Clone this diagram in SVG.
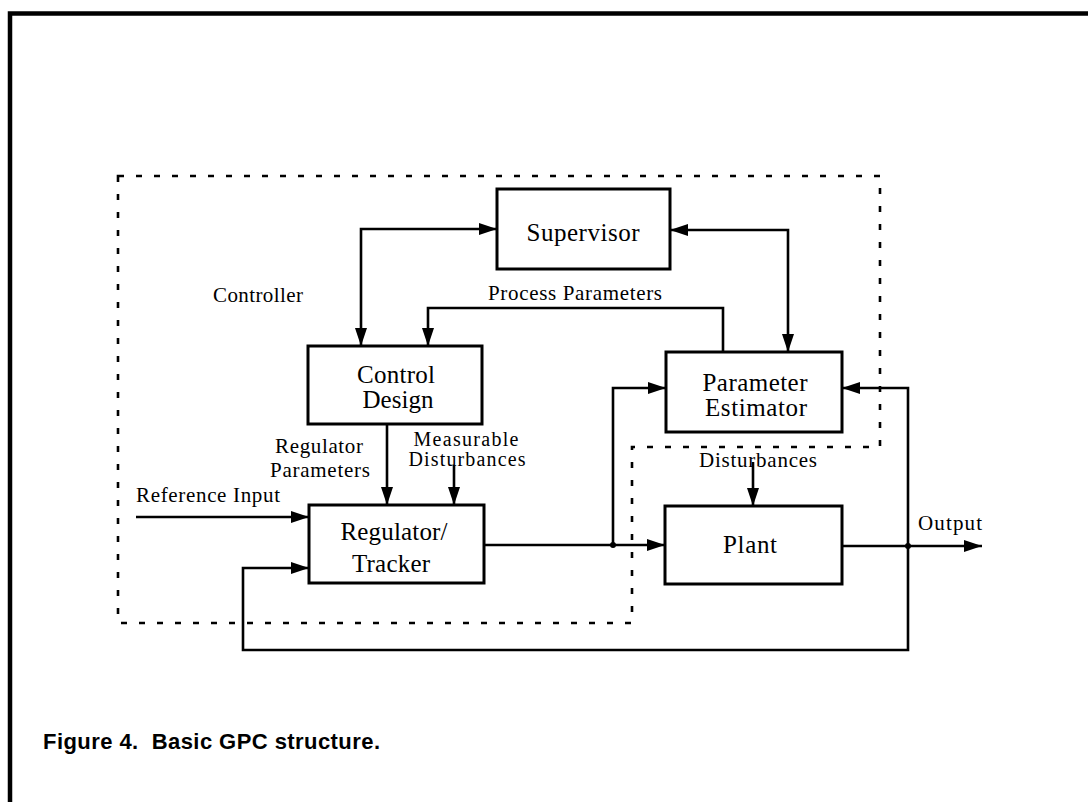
<svg xmlns="http://www.w3.org/2000/svg" width="1088" height="802" viewBox="0 0 1088 802">
<style>
.box{fill:#fff;stroke:#000;stroke-width:3}
.ln{fill:none;stroke:#000;stroke-width:2.6;stroke-linejoin:miter}
.lbl{font-family:"Liberation Serif","Times New Roman",serif;font-size:21px;fill:#000}
.sm{font-size:20px}
.big{font-family:"Liberation Serif","Times New Roman",serif;font-size:25px;fill:#000;text-anchor:middle}
.mid{text-anchor:middle}
.cap{font-family:"Liberation Sans",Arial,sans-serif;font-size:22px;font-weight:bold;fill:#000;white-space:pre}
</style>
<defs>
<marker id="ah" markerUnits="userSpaceOnUse" markerWidth="20" markerHeight="14" refX="18" refY="6" orient="auto-start-reverse">
<path d="M0,0 L18,6 L0,12 Z" fill="#000"/>
</marker>
</defs>
<rect width="1088" height="802" fill="#fff"/>
<path d="M10,802 V13.5 H1088" fill="none" stroke="#000" stroke-width="4.5"/>
<path id="controller-boundary" d="M118,176 H880 V447 H632 V623 H118 Z" fill="none" stroke="#000" stroke-width="2.6" stroke-dasharray="6 12"/>
<text class="lbl" x="213" y="302" textLength="90" lengthAdjust="spacing">Controller</text>
<g id="connectors">
<path class="ln" d="M497,229 H361 V346" marker-start="url(#ah)" marker-end="url(#ah)"/>
<path class="ln" d="M723,352 V308 H428 V346" marker-end="url(#ah)"/>
<path class="ln" d="M670,230 H788 V352" marker-start="url(#ah)" marker-end="url(#ah)"/>
<path class="ln" d="M484,545 H665" marker-end="url(#ah)"/>
<path class="ln" d="M613,545 V388 H666" marker-end="url(#ah)"/>
<path class="ln" d="M842,546 H982" marker-end="url(#ah)"/>
<path class="ln" d="M908,546 V388 H842" marker-end="url(#ah)"/>
<path class="ln" d="M908,546 V650 H243 V568 H309" marker-end="url(#ah)"/>
<path class="ln" d="M136,517 H309" marker-end="url(#ah)"/>
<path class="ln" d="M387,424 V505" marker-end="url(#ah)"/>
<path class="ln" d="M454,465 V505" marker-end="url(#ah)"/>
<path class="ln" d="M753,462 V506" marker-end="url(#ah)"/>
<circle cx="613" cy="545" r="3" fill="#000"/>
<circle cx="908" cy="546" r="3" fill="#000"/>
<text class="lbl" x="488" y="300" textLength="174" lengthAdjust="spacing">Process Parameters</text>
<text class="lbl" x="136" y="502" textLength="144" lengthAdjust="spacing">Reference Input</text>
<text class="lbl mid" x="319" y="453" textLength="88" lengthAdjust="spacing">Regulator</text>
<text class="lbl mid" x="320" y="477" textLength="100" lengthAdjust="spacing">Parameters</text>
<text class="lbl sm mid" x="466" y="446" textLength="105" lengthAdjust="spacing">Measurable</text>
<text class="lbl sm mid" x="467" y="466" textLength="117" lengthAdjust="spacing">Disturbances</text>
<text class="lbl mid" x="758" y="467" textLength="118" lengthAdjust="spacing">Disturbances</text>
<text class="lbl" x="918" y="530" textLength="64" lengthAdjust="spacing">Output</text>
</g>
<g id="supervisor">
<rect class="box" x="497" y="189" width="173" height="80"/>
<text class="big" x="583" y="241" textLength="113" lengthAdjust="spacing">Supervisor</text>
</g>
<g id="control-design">
<rect class="box" x="308" y="346" width="174" height="78"/>
<text class="big" x="396" y="383" textLength="78" lengthAdjust="spacing">Control</text>
<text class="big" x="398" y="408" textLength="71" lengthAdjust="spacing">Design</text>
</g>
<g id="parameter-estimator">
<rect class="box" x="666" y="352" width="176" height="80"/>
<text class="big" x="755" y="391" textLength="105" lengthAdjust="spacing">Parameter</text>
<text class="big" x="756" y="416" textLength="102" lengthAdjust="spacing">Estimator</text>
</g>
<g id="regulator-tracker">
<rect class="box" x="309" y="505" width="175" height="78"/>
<text class="big" x="394" y="540" textLength="107" lengthAdjust="spacing">Regulator/</text>
<text class="big" x="391" y="572" textLength="78" lengthAdjust="spacing">Tracker</text>
</g>
<g id="plant">
<rect class="box" x="665" y="506" width="177" height="78"/>
<text class="big" x="750" y="553" textLength="54" lengthAdjust="spacing">Plant</text>
</g>
<text class="cap" x="43" y="749" textLength="337" lengthAdjust="spacing">Figure 4.  Basic GPC structure.</text>
</svg>
